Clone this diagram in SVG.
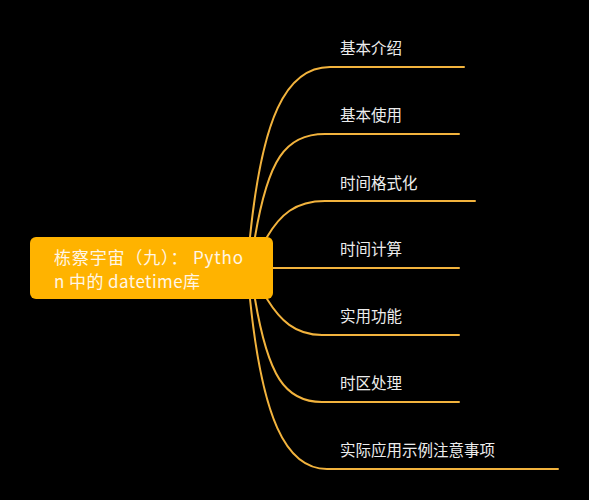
<svg xmlns="http://www.w3.org/2000/svg" width="589" height="500" viewBox="0 0 589 500">
<style>
.ln{fill:none;stroke:#F2B33D;stroke-width:2;stroke-linecap:round}
.lb{font-family:"Noto Sans CJK SC","Noto Sans",sans-serif;font-size:15.5px;fill:#EDEDED}
.rt{font-family:"Noto Sans CJK SC","Noto Sans",sans-serif;font-size:17px;fill:#FFF6E6}
</style>
<rect width="589" height="500" fill="#000"/>
<g id="connectors">
<path class="ln" d="M250,237 C262,120 285,67 330,67 L464,67"/>
<path class="ln" d="M255,237 C268,160 285,134 325,134 L459,134"/>
<path class="ln" d="M267,237 C280,215 295,201 325,201 L475,201"/>
<path class="ln" d="M273,268 L459,268"/>
<path class="ln" d="M267,299 C280,320 295,335 322,335 L459,335"/>
<path class="ln" d="M255,299 C268,376 285,402 322,402 L459,402"/>
<path class="ln" d="M250,299 C262,416 285,469 327,469 L558,469"/>
</g>
<g id="root">
<rect x="30" y="237" width="243" height="62" rx="6" fill="#FFB300"/>
<text class="rt" x="54" y="264" textLength="189" lengthAdjust="spacing">栋察宇宙（九）： Pytho</text>
<text class="rt" x="54" y="288" textLength="146" lengthAdjust="spacing">n 中的 datetime库</text>
</g>
<g id="n1"><text class="lb" x="340" y="54">基本介绍</text></g>
<g id="n2"><text class="lb" x="340" y="121">基本使用</text></g>
<g id="n3"><text class="lb" x="340" y="189">时间格式化</text></g>
<g id="n4"><text class="lb" x="340" y="255">时间计算</text></g>
<g id="n5"><text class="lb" x="340" y="322">实用功能</text></g>
<g id="n6"><text class="lb" x="340" y="389">时区处理</text></g>
<g id="n7"><text class="lb" x="340" y="456">实际应用示例注意事项</text></g>
</svg>
